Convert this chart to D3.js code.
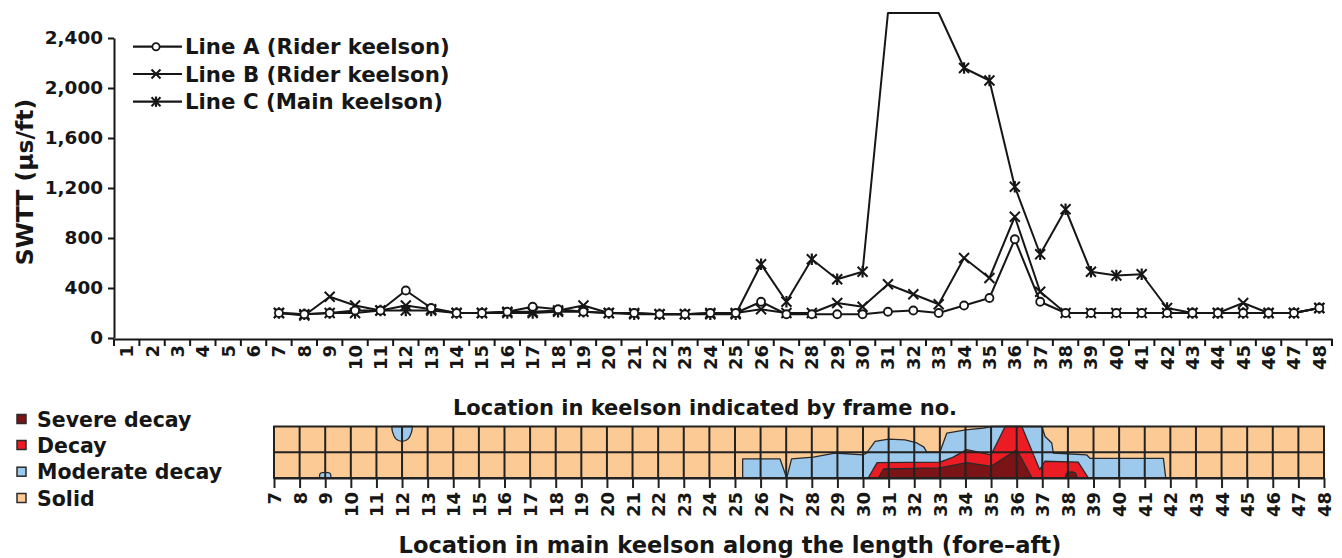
<!DOCTYPE html>
<html>
<head>
<meta charset="utf-8">
<script src="https://cdn.jsdelivr.net/npm/d3@7"></script>
<style>
  html, body { margin: 0; padding: 0; background: #fff; }
  svg { display: block; }
  text { font-family: "DejaVu Sans", sans-serif; font-weight: bold; fill: #161616; }
</style>
</head>
<body>
<svg id="chart" width="1342" height="558"></svg>
<script>
// ---- Sonic wave transmission time (SWTT) readings by frame ----
const frameLabels = [1,2,3,4,5,6,7,8,9,10,11,12,13,14,15,16,17,18,19,20,21,22,23,24,
  25,26,27,28,29,30,31,32,33,34,35,36,37,38,39,40,41,42,43,44,45,46,47,48];
const measuredFrames = [7,8,9,10,11,12,13,14,15,16,17,18,19,20,21,22,23,24,25,26,27,
  28,29,30,31,32,33,34,35,36,37,38,39,40,41,42,43,44,45,46,47,48];
const lineA = [200,190,200,220,220,380,240,200,200,210,250,230,210,200,200,190,190,200,200,290,190,
  190,190,190,210,220,200,260,320,790,290,200,200,200,200,200,200,200,200,200,200,240];
const lineB = [200,180,330,260,220,260,230,200,200,210,210,220,260,200,200,190,190,200,200,230,200,
  200,280,250,430,350,270,640,480,970,370,200,200,200,200,200,200,200,280,200,200,240];
// readings at frames 31-33 run off the top of the scale
const lineC = [200,190,200,200,220,220,220,200,200,200,200,210,210,200,190,190,190,190,190,590,290,
  630,470,530,2600,2600,2600,2160,2060,1210,670,1030,530,500,510,240,200,200,200,200,200,240];
const yTicks = [0,400,800,1200,1600,2000,2400];
const seriesNames = ["Line A (Rider keelson)", "Line B (Rider keelson)", "Line C (Main keelson)"];

// ---- Decay map of the main keelson: boundary profiles as [frame, level] (0 = bottom, 2 = top) ----
const mapFrames = [7,8,9,10,11,12,13,14,15,16,17,18,19,20,21,22,23,24,25,26,27,
  28,29,30,31,32,33,34,35,36,37,38,39,40,41,42,43,44,45,46,47,48];
const moderateMain = [[25.3,0],[25.3,0.74],[26.76,0.74],[27.02,0],[27.21,0.74],[28.06,0.81],
  [28.9,0.97],[30.0,0.9],[30.14,0.97],[30.47,1.42],[31.0,1.51],[31.64,1.48],[32.1,1.36],
  [32.38,1.2],[32.49,1.0],[33.0,1.0],[33.27,1.74],[34.01,1.87],[34.7,1.94],[35.0,2],[36.98,2],
  [37.11,1.61],[37.37,1.36],[37.43,0.97],[38.73,0.9],[38.87,0.76],[41.73,0.76],[41.82,0]];
const moderateSpot12 = [[11.6,2],[11.63,1.78],[11.76,1.52],[12.0,1.42],[12.24,1.52],[12.37,1.78],[12.4,2]];
const moderateSpot9 = [[8.78,0],[8.8,0.17],[8.9,0.21],[9.1,0.21],[9.2,0.17],[9.22,0]];
const decayMain = [[30.2,0],[30.55,0.6],[33.0,0.62],[33.5,0.8],[34.05,1.1],[35.0,0.9],[35.55,2],
  [36.2,2],[36.9,0.32],[37.1,0.65],[38.4,0.62],[38.8,0]];
const severeMain = [[30.6,0],[30.8,0.35],[33.0,0.39],[34.05,0.6],[35.0,0.45],[36.0,1.1],[36.6,0]];
const severeSpot38 = [[37.9,0],[37.97,0.2],[38.28,0.2],[38.35,0]];
const mapLegend = ["Severe decay", "Decay", "Moderate decay", "Solid"];
const mapColors = ["#7b1416", "#ec1c24", "#9dc9ec", "#fccb95"];

const svg = d3.select("#chart");
svg.append("rect").attr("width", 1342).attr("height", 558).attr("fill", "#fff");

// ================= SWTT line chart =================
const x = d3.scaleBand().domain(frameLabels).range([114, 1332]).padding(0);
const y = d3.scaleLinear().domain([0, 2400]).range([338, 38]);
const cx = f => x(f) + x.bandwidth() / 2;

// y axis
const yAxis = svg.append("g").attr("transform", "translate(114,0)")
  .call(d3.axisLeft(y).tickValues(yTicks).tickFormat(d3.format(",")).tickSize(6).tickPadding(5).tickSizeOuter(0));
yAxis.select(".domain").attr("stroke", "#161616").attr("stroke-width", 2);
yAxis.selectAll(".tick line").attr("stroke", "#161616").attr("stroke-width", 2);
yAxis.selectAll(".tick text").style("font-size", "18.4px").attr("fill", "#161616");

// x axis: labels centred in bands, tick marks on band edges
const xAxis = svg.append("g").attr("transform", "translate(0,339)")
  .call(d3.axisBottom(x).tickSize(0).tickSizeOuter(0));
xAxis.select(".domain").attr("stroke", "#161616").attr("stroke-width", 2.2);
xAxis.selectAll(".tick text")
  .style("font-size", "18px")
  .attr("transform", "rotate(-90)")
  .attr("x", -6).attr("y", 0).attr("dy", "0.36em")
  .attr("text-anchor", "end");
const edges = frameLabels.map(f => x(f)).concat([x.range()[1]]);
xAxis.selectAll("line.edge").data(edges).join("line").attr("class", "edge")
  .attr("x1", d => d).attr("x2", d => d).attr("y1", 0).attr("y2", 7)
  .attr("stroke", "#161616").attr("stroke-width", 2);

svg.append("text").attr("transform", "translate(33,182) rotate(-90)")
  .attr("text-anchor", "middle").style("font-size", "23.5px").text("SWTT (\u03bcs/ft)");
svg.append("text").attr("x", 705).attr("y", 415).attr("text-anchor", "middle")
  .style("font-size", "21px").text("Location in keelson indicated by frame no.");

// markers: 0 = open circle, 1 = cross, 2 = asterisk
function drawMarker(g, kind, s) {
  if (kind === 0) {
    g.append("circle").attr("r", s * 0.8).attr("fill", "#fff").attr("stroke", "#161616").attr("stroke-width", 1.8);
  } else {
    g.append("path").attr("d", `M${-s},${-s}L${s},${s}M${-s},${s}L${s},${-s}`)
      .attr("stroke", "#161616").attr("stroke-width", 2).attr("fill", "none");
    if (kind === 2) {
      g.append("path").attr("d", `M0,${-s * 1.15}V${s * 1.15}`)
        .attr("stroke", "#161616").attr("stroke-width", 2.2);
    }
  }
}

const series = [lineC, lineB, lineA];
const kinds = [2, 1, 0];
const line = d3.line().x((d, i) => cx(measuredFrames[i])).y(d => y(d));
series.forEach(vals => {
  svg.append("path").datum(vals).attr("d", line)
    .attr("fill", "none").attr("stroke", "#161616").attr("stroke-width", 2).attr("stroke-linejoin", "round");
});
const yMax = y.domain()[1];
series.forEach((vals, k) => {
  vals.forEach((v, i) => {
    if (v > yMax) return; // off-scale readings show only as the line
    const g = svg.append("g").attr("transform", `translate(${cx(measuredFrames[i])},${y(v)})`);
    drawMarker(g, kinds[k], 5);
  });
});

// legend
const legendRows = [46.7, 74, 101.7];
seriesNames.forEach((name, i) => {
  svg.append("line").attr("x1", 133).attr("x2", 182).attr("y1", legendRows[i]).attr("y2", legendRows[i])
    .attr("stroke", "#161616").attr("stroke-width", 2.2);
  const g = svg.append("g").attr("transform", `translate(156,${legendRows[i]})`);
  drawMarker(g, i, 4.5);
  svg.append("text").attr("x", 185).attr("y", legendRows[i] + 7.6).style("font-size", "21.3px").text(name);
});

// ================= Decay map =================
const mx = d3.scaleLinear().domain([7, 48]).range([274, 1324]);
const my = d3.scaleLinear().domain([0, 2]).range([478, 426.5]);

svg.append("rect").attr("x", mx(7)).attr("y", my(2)).attr("width", mx(48) - mx(7)).attr("height", my(0) - my(2))
  .attr("fill", mapColors[3]);

const fromBottom = d3.area().x(d => mx(d[0])).y0(my(0)).y1(d => my(d[1]));
const fromTop = d3.area().x(d => mx(d[0])).y0(my(2)).y1(d => my(d[1]));
const edgeStroke = "#2a2a2a";

function region(shape, gen, fill, curve) {
  svg.append("path").datum(shape).attr("d", gen.curve(curve || d3.curveLinear))
    .attr("fill", fill).attr("stroke", edgeStroke).attr("stroke-width", 1.3).attr("stroke-linejoin", "round");
}
region(moderateMain, fromBottom, mapColors[2]);
region(moderateSpot12, fromTop, mapColors[2], d3.curveCatmullRom);
region(moderateSpot9, fromBottom, mapColors[2], d3.curveCatmullRom);
region(decayMain, fromBottom, mapColors[1]);
region(severeMain, fromBottom, mapColors[0]);
region(severeSpot38, fromBottom, mapColors[0], d3.curveCatmullRom);

// grid over the fills
svg.append("line").attr("x1", mx(7)).attr("x2", mx(48)).attr("y1", my(1)).attr("y2", my(1))
  .attr("stroke", "#222").attr("stroke-width", 2);
svg.selectAll("line.mapgrid").data(mapFrames).join("line").attr("class", "mapgrid")
  .attr("x1", d => mx(d)).attr("x2", d => mx(d)).attr("y1", my(2)).attr("y2", my(0))
  .attr("stroke", "#222").attr("stroke-width", 2);
svg.append("rect").attr("x", mx(7)).attr("y", my(2)).attr("width", mx(48) - mx(7)).attr("height", my(0) - my(2))
  .attr("fill", "none").attr("stroke", "#222").attr("stroke-width", 2);

const mapAxis = svg.append("g").attr("transform", `translate(0,${my(0)})`)
  .call(d3.axisBottom(mx).tickValues(mapFrames).tickFormat(d3.format("d")).tickSize(10).tickSizeOuter(0));
mapAxis.select(".domain").attr("stroke", "#222").attr("stroke-width", 2);
mapAxis.selectAll(".tick line").attr("stroke", "#222").attr("stroke-width", 2);
mapAxis.selectAll(".tick text")
  .style("font-size", "18px")
  .attr("transform", "rotate(-90)")
  .attr("x", -14).attr("y", 0).attr("dy", "0.36em")
  .attr("text-anchor", "end");

svg.append("text").attr("x", 730).attr("y", 553).attr("text-anchor", "middle")
  .style("font-size", "22.6px").text("Location in main keelson along the length (fore\u2013aft)");

// map legend
const mapLegendRows = [419, 445, 471.7, 498];
mapLegend.forEach((name, i) => {
  svg.append("rect").attr("x", 17).attr("y", mapLegendRows[i] - 4.5).attr("width", 9).attr("height", 9)
    .attr("fill", mapColors[i]).attr("stroke", "#2a2a2a").attr("stroke-width", 1.5);
  svg.append("text").attr("x", 37).attr("y", mapLegendRows[i] + 7.5).style("font-size", "20.5px").text(name);
});
</script>
</body>
</html>
